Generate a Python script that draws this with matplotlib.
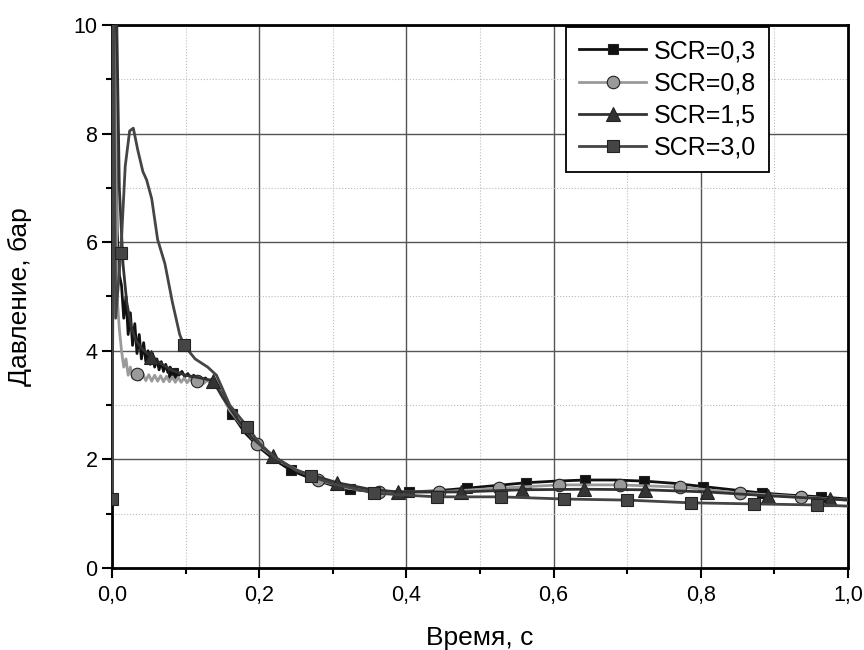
import numpy as np
import matplotlib
matplotlib.use("Agg")
import matplotlib.pyplot as plt
from matplotlib.ticker import MultipleLocator, FuncFormatter

plt.rcParams['font.family'] = ['Liberation Sans', 'DejaVu Sans']

# SCR = 0,3 (black, squares)
t_03 = [0.0, 0.002, 0.004, 0.007, 0.010, 0.013, 0.016, 0.019, 0.022, 0.025, 0.028, 0.031,
        0.034, 0.037, 0.040, 0.043, 0.046, 0.049, 0.052, 0.055, 0.058, 0.061, 0.064, 0.067,
        0.070, 0.073, 0.076, 0.079, 0.083, 0.087, 0.091, 0.095, 0.099, 0.103, 0.107, 0.111,
        0.115, 0.119, 0.123, 0.127, 0.131, 0.135, 0.140, 0.150, 0.163, 0.180, 0.200, 0.220,
        0.243, 0.270, 0.300, 0.323, 0.360, 0.403, 0.440, 0.483, 0.523, 0.563, 0.603, 0.643,
        0.683, 0.723, 0.763, 0.803, 0.843, 0.883, 0.923, 0.963, 1.0]
p_03 = [1.27, 10.5, 10.5, 6.2, 5.4, 5.2, 4.6, 5.0, 4.3, 4.7, 4.1, 4.5,
        3.95, 4.3, 3.85, 4.15, 3.8, 4.0, 3.75, 3.95, 3.7, 3.85, 3.65, 3.8,
        3.62, 3.75, 3.6, 3.7, 3.59, 3.66, 3.55, 3.62, 3.52, 3.58, 3.5, 3.55,
        3.48, 3.52, 3.46, 3.5, 3.44, 3.47, 3.42, 3.2, 2.84, 2.5, 2.22, 2.0,
        1.8, 1.65, 1.52, 1.45, 1.4, 1.4, 1.42, 1.47, 1.52, 1.57, 1.6, 1.62,
        1.62, 1.6, 1.56, 1.5, 1.44, 1.38, 1.34, 1.31, 1.27]
m_03 = [0.083, 0.163, 0.243, 0.323, 0.403, 0.483, 0.563, 0.643, 0.723, 0.803, 0.883, 0.963]

# SCR = 0,8 (light gray, circles)
t_08 = [0.0, 0.002, 0.004, 0.007, 0.010, 0.013, 0.016, 0.019, 0.022, 0.025, 0.028, 0.031,
        0.034, 0.038, 0.042, 0.046, 0.050, 0.054, 0.058, 0.062, 0.066, 0.070, 0.074, 0.078,
        0.082, 0.086, 0.090, 0.094, 0.098, 0.102, 0.106, 0.110, 0.115, 0.120, 0.125, 0.130,
        0.135, 0.140, 0.160, 0.197, 0.230, 0.280, 0.320, 0.363, 0.444, 0.526, 0.608, 0.690,
        0.772, 0.853, 0.936, 1.0]
p_08 = [1.27, 10.5, 10.5, 5.0, 4.4, 4.0, 3.7, 3.85, 3.55, 3.7, 3.5, 3.62,
        3.57, 3.46, 3.58, 3.45, 3.56, 3.44, 3.55, 3.44, 3.54, 3.43, 3.53, 3.43,
        3.52, 3.42, 3.51, 3.42, 3.5, 3.41, 3.49, 3.41, 3.44, 3.48, 3.4, 3.47,
        3.4, 3.42, 2.9, 2.28, 1.95, 1.62, 1.47, 1.4, 1.4, 1.47, 1.53, 1.53,
        1.49, 1.38, 1.31, 1.25]
m_08 = [0.034, 0.115, 0.197, 0.280, 0.363, 0.444, 0.526, 0.608, 0.690, 0.772, 0.853, 0.936]

# SCR = 1,5 (dark gray, triangles)
t_15 = [0.0, 0.003, 0.006, 0.010, 0.015, 0.020, 0.026, 0.032, 0.040, 0.053, 0.065, 0.080,
        0.100, 0.120, 0.137, 0.150, 0.170, 0.190, 0.219, 0.250, 0.306, 0.350, 0.389, 0.474,
        0.557, 0.641, 0.724, 0.808, 0.891, 0.975, 1.0]
p_15 = [1.27, 10.5, 10.5, 7.0, 5.6, 4.9, 4.45, 4.2, 4.05, 3.89, 3.78, 3.65,
        3.55, 3.5, 3.45, 3.15, 2.75, 2.4, 2.06, 1.8, 1.57, 1.45, 1.4, 1.4,
        1.44, 1.45, 1.44, 1.4, 1.33, 1.27, 1.25]
m_15 = [0.053, 0.137, 0.219, 0.306, 0.389, 0.474, 0.557, 0.641, 0.724, 0.808, 0.891, 0.975]

# SCR = 3,0 (gray, squares)
t_30 = [0.0, 0.002, 0.005, 0.012, 0.018, 0.024, 0.029, 0.035, 0.042, 0.047, 0.054, 0.062,
        0.072, 0.082, 0.092, 0.098, 0.113, 0.130, 0.142, 0.160, 0.184, 0.200, 0.220, 0.250,
        0.270, 0.300, 0.356, 0.400, 0.442, 0.500, 0.528, 0.614, 0.700, 0.786, 0.872, 0.958, 1.0]
p_30 = [1.27, 10.5, 4.6, 5.8, 7.4, 8.05, 8.1, 7.7, 7.3, 7.15, 6.8, 6.05,
        5.6, 4.9, 4.3, 4.1, 3.85, 3.7, 3.55, 3.0, 2.6, 2.3, 2.05, 1.8,
        1.69, 1.55, 1.38, 1.34, 1.31, 1.31, 1.31, 1.27, 1.25, 1.2, 1.18, 1.16, 1.14]
m_30 = [0.0, 0.012, 0.098, 0.184, 0.270, 0.356, 0.442, 0.528, 0.614, 0.700, 0.786, 0.872, 0.958]

labels = ["SCR=0,3", "SCR=0,8", "SCR=1,5", "SCR=3,0"]

fig = plt.figure(figsize=(8.64, 6.5), dpi=100)
ax = fig.add_axes([0.1296, 0.1262, 0.8519, 0.8353])

# (time, pressure, marker times, line colour, marker face, marker, size)
series = [
    (t_03, p_03, m_03, '#111111', '#111111', 's', 7),
    (t_08, p_08, m_08, '#9a9a9a', '#9a9a9a', 'o', 9),
    (t_15, p_15, m_15, '#333333', '#333333', '^', 9.5),
    (t_30, p_30, m_30, '#454545', '#454545', 's', 8.5),
]

for (t, p, m, col, face, mk, ms), lab in zip(series, labels):
    # markers sit on the data points nearest to the marker times
    idx = [int(np.argmin(np.abs(np.array(t) - v))) for v in m]
    ax.plot(t, p, color=col, lw=2.0, marker=mk, markersize=ms, markevery=idx,
            markerfacecolor=face, markeredgecolor='#222222', markeredgewidth=0.8,
            label=lab, zorder=3)

ax.set_xlim(0, 1.0)
ax.set_ylim(0, 10)
ax.xaxis.set_major_locator(MultipleLocator(0.2))
ax.xaxis.set_minor_locator(MultipleLocator(0.1))
ax.yaxis.set_major_locator(MultipleLocator(2))
ax.yaxis.set_minor_locator(MultipleLocator(1))
ax.xaxis.set_major_formatter(FuncFormatter(lambda v, pos: f"{v:.1f}".replace('.', ',')))
ax.yaxis.set_major_formatter(FuncFormatter(lambda v, pos: f"{v:.0f}"))

ax.grid(which='major', color='#555555', lw=1.0, ls='-')
ax.grid(which='minor', color='#bbbbbb', lw=0.8, ls=':')
ax.set_axisbelow(True)

ax.tick_params(which='major', direction='out', length=7, width=1.5, labelsize=15.5,
               top=False, right=False)
ax.tick_params(which='minor', direction='out', length=4, width=1.5,
               top=False, right=False)
ax.tick_params(axis='x', pad=5)
for s in ax.spines.values():
    s.set_linewidth(2.0)
    s.set_color('black')

ax.set_xlabel("Время, с", fontsize=19, labelpad=15)
ax.set_ylabel("Давление, бар", fontsize=19, labelpad=30)

leg = ax.legend(loc='upper left', bbox_to_anchor=(0.6175, 0.997), borderaxespad=0,
                fontsize=18, handlelength=2.7, labelspacing=0.33, borderpad=0.5,
                handletextpad=0.3, fancybox=False, framealpha=1.0)
leg.get_frame().set_edgecolor('black')
leg.get_frame().set_linewidth(1.3)

fig.savefig("out.png", dpi=100)
